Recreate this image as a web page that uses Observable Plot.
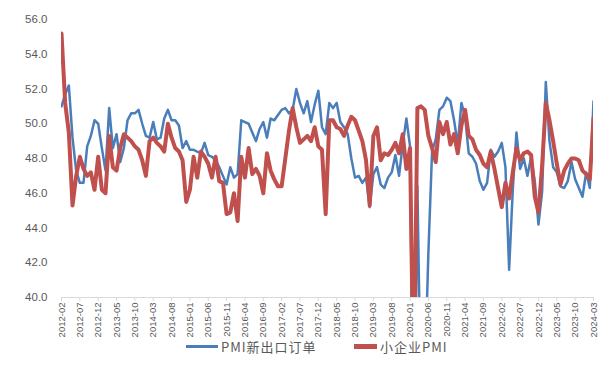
<!DOCTYPE html>
<html><head><meta charset="utf-8">
<script src="https://cdn.jsdelivr.net/npm/d3@7"></script>
<script src="https://cdn.jsdelivr.net/npm/@observablehq/plot@0.6"></script>
<style>
body{margin:0;background:#fff;}
#wrap{position:relative;width:600px;height:380px;background:#fff;}
#wrap svg{position:absolute;left:0;top:0;}
.leg{position:absolute;top:338px;height:16px;display:flex;align-items:center;font-family:"Noto Sans CJK SC","Noto Sans",sans-serif;font-size:13px;letter-spacing:1px;color:#595959;white-space:nowrap;}
.sw{display:inline-block;margin-right:3px;}
</style></head><body><div id="wrap"></div>
<script>
// Series names
const seriesNames = ["PMI新出口订单", "小企业PMI"];
// Monthly values, 2012-02 .. 2024-03
const exportOrders = [
  51.0, 51.7, 52.2, 49.2, 47.3, 46.6, 46.6, 48.7, 49.3, 50.2,
  50.0, 48.6, 47.3, 50.9, 48.6, 49.4, 47.8, 48.6, 50.2, 50.6,
  50.6, 50.8, 50.0, 49.3, 49.2, 50.1, 49.1, 49.2, 50.3, 50.8,
  50.2, 50.2, 49.9, 48.6, 49.0, 48.5, 48.5, 48.4, 48.3, 48.9,
  48.2, 48.1, 47.9, 47.5, 47.0, 46.5, 47.5, 46.9, 47.1, 50.2,
  50.1, 50.0, 49.5, 49.0, 49.7, 50.1, 49.2, 50.3, 50.2, 50.5,
  50.8, 50.9, 50.6, 50.8, 52.0, 51.2, 50.6, 51.3, 50.1, 51.1,
  51.9, 49.8, 49.4, 51.2, 50.9, 51.2, 50.1, 49.8, 49.4, 48.0,
  46.9, 47.0, 46.6, 46.9, 45.2, 47.1, 47.5, 46.5, 46.3, 46.9,
  47.2, 48.2, 47.0, 48.8, 50.3, 48.7, 28.7, 46.4, 33.5, 35.3,
  42.6, 48.4, 49.1, 50.8, 51.0, 51.5, 51.3, 50.2, 48.8, 51.2,
  50.4, 48.3, 48.1, 47.7, 46.7, 46.2, 46.6, 48.5, 48.1, 48.4,
  48.9, 47.5, 41.6, 46.2, 49.5, 47.4, 48.0, 47.0, 48.1, 46.7,
  44.2, 46.1, 52.4, 49.0, 47.5, 47.2, 46.4, 46.3, 46.7, 47.8,
  46.8, 46.3, 45.8, 47.2, 46.3, 51.3
];
const smallPMI = [
  55.2, 51.2, 49.5, 45.3, 47.0, 48.1, 47.4, 47.0, 47.2, 46.2,
  48.1, 46.2, 46.0, 49.3, 47.5, 47.3, 48.6, 49.4, 49.2, 49.0,
  48.7, 48.5, 47.9, 47.0, 49.0, 49.2, 48.9, 48.7, 48.4, 50.0,
  49.2, 48.6, 48.4, 47.9, 45.5, 46.2, 48.1, 46.9, 48.4, 48.1,
  47.7, 46.9, 48.1, 46.7, 46.6, 44.8, 44.9, 46.0, 44.4, 48.1,
  46.9, 48.6, 47.1, 47.4, 47.0, 46.0, 48.3, 47.3, 46.8, 46.4,
  46.4, 48.0, 49.6, 50.9, 49.8, 48.9, 49.1, 49.3, 49.0, 49.8,
  48.7, 48.5, 44.8, 50.2, 50.2, 49.8, 49.7, 49.3, 49.9, 50.4,
  50.2, 49.6, 49.0, 47.9, 45.3, 49.3, 49.8, 47.9, 48.3, 48.2,
  48.5, 48.9, 48.3, 49.4, 47.4, 48.6, 34.1, 50.9, 51.0, 50.8,
  49.3, 48.6, 47.8, 50.1, 49.4, 50.1, 48.8, 49.4, 48.3, 49.9,
  50.8, 49.3, 49.1, 48.5, 48.2, 47.7, 47.5, 48.4, 47.4, 46.3,
  45.2, 46.6, 45.7, 47.2, 48.6, 47.9, 48.3, 48.4, 48.2, 45.8,
  44.9, 47.6, 51.2, 50.2, 49.0, 47.7, 46.5, 47.3, 47.7, 48.0,
  48.0, 47.9, 47.3, 47.1, 46.8, 50.3
];
const yTicks = [40, 42, 44, 46, 48, 50, 52, 54, 56];
const months = d3.utcMonth.range(new Date(Date.UTC(2012, 1, 1)), new Date(Date.UTC(2024, 3, 1))).map(d3.utcFormat("%Y-%m"));
const xTicks = months.filter((d, i) => i % 5 === 0);
const colors = ["#4a7ebb", "#c0504d"];

const data = months.map((m, i) => ({m, a: exportOrders[i], b: smallPMI[i]}));

const chart = Plot.plot({
  width: 600, height: 350,
  marginTop: 19, marginBottom: 53, marginLeft: 61, marginRight: 7,
  style: {fontFamily: "'Liberation Sans', Arial, sans-serif", fontSize: "11px", color: "#595959", background: "transparent"},
  x: {type: "point", domain: months, padding: 0, axis: null},
  y: {domain: [40, 56], axis: null},
  marks: [
    Plot.axisY({ticks: yTicks, tickFormat: d3.format(".1f"), tickSize: 0, tickPadding: 14, label: null, fill: "#595959", fontSize: 11.5}),
    Plot.ruleY([40], {stroke: "#d9d9d9"}),
    Plot.lineY(data, {x: "m", y: "a", stroke: colors[0], strokeWidth: 2.5, clip: true}),
    Plot.lineY(data, {x: "m", y: "b", stroke: colors[1], strokeWidth: 4, clip: true}),
    Plot.axisX({ticks: xTicks, tickRotate: -90, tickSize: 4, tickPadding: 1, stroke: "#d9d9d9", fill: "#595959", label: null, fontSize: 9.5})
  ]
});
const wrap = document.getElementById("wrap");
wrap.appendChild(chart);

const legItems = [
  {name: seriesNames[0], color: colors[0], left: 186, w: 32, h: 3},
  {name: seriesNames[1], color: colors[1], left: 354, w: 23, h: 5}
];
for (const it of legItems) {
  const d = document.createElement("div");
  d.className = "leg";
  d.style.left = it.left + "px";
  const s = document.createElement("span");
  s.className = "sw";
  s.style.width = it.w + "px";
  s.style.height = it.h + "px";
  s.style.background = it.color;
  d.appendChild(s);
  d.appendChild(document.createTextNode(it.name));
  wrap.appendChild(d);
}
</script>
</body></html>
